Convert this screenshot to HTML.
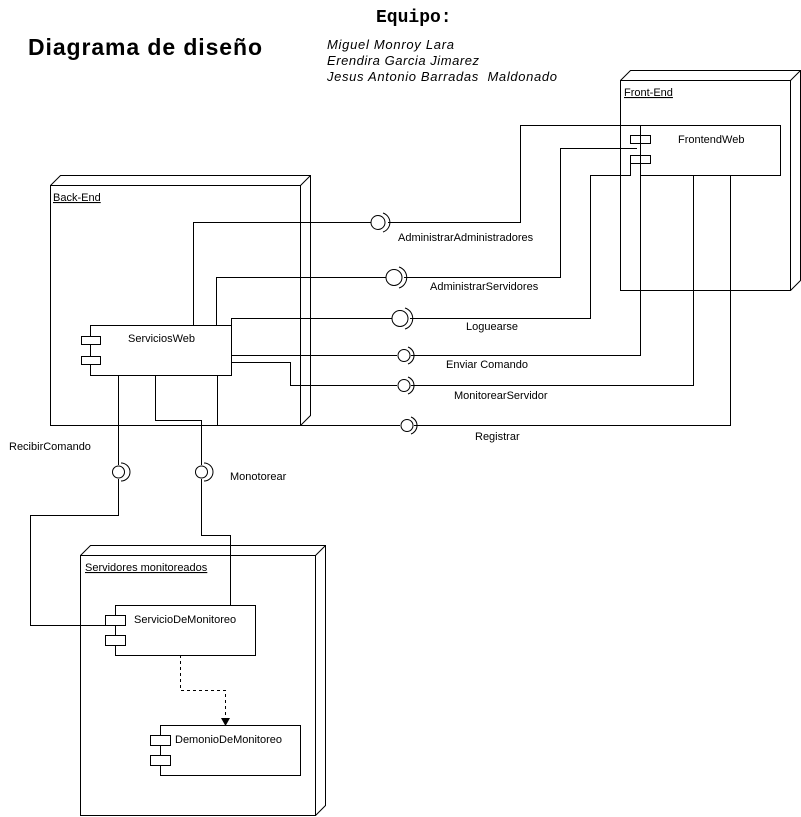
<!DOCTYPE html>
<html><head><style>body{margin:0;background:#fff}svg{display:block}text{font-family:"Liberation Sans",sans-serif;font-size:11px;fill:#000}</style></head>
<body>
<svg width="801" height="817" viewBox="0 0 801 817" xmlns="http://www.w3.org/2000/svg">
<rect width="801" height="817" fill="#fff"/>
<text x="376" y="22" style="font-family:'Liberation Mono',monospace;font-weight:bold;font-size:18px">Equipo:</text>
<text x="28" y="55" style="font-size:23px;font-weight:bold" textLength="234">Diagrama de diseño</text>
<text x="327" y="49" style="font-style:italic;font-size:13px" textLength="127">Miguel Monroy Lara</text>
<text x="327" y="65" style="font-style:italic;font-size:13px" textLength="152">Erendira Garcia Jimarez</text>
<text x="327" y="81" style="font-style:italic;font-size:13px;white-space:pre" xml:space="preserve" textLength="230">Jesus Antonio Barradas  Maldonado</text>
<g fill="none" stroke="#000" stroke-width="1">
<path d="M50.5 185.5 H300.5 V425.5 H50.5 Z M50.5 185.5 L60.5 175.5 H310.5 V415.5 L300.5 425.5 M300.5 185.5 L310.5 175.5"/>
<path d="M620.5 80.5 H790.5 V290.5 H620.5 Z M620.5 80.5 L630.5 70.5 H800.5 V280.5 L790.5 290.5 M790.5 80.5 L800.5 70.5"/>
<path d="M80.5 555.5 H315.5 V815.5 H80.5 Z M80.5 555.5 L90.5 545.5 H325.5 V805.5 L315.5 815.5 M315.5 555.5 L325.5 545.5"/>
<rect x="90.5" y="325.5" width="141" height="50" fill="#fff"/>
<rect x="81.5" y="336.5" width="19" height="8" fill="#fff"/><rect x="81.5" y="356.5" width="19" height="8" fill="#fff"/>
<rect x="640.5" y="125.5" width="140" height="50" fill="#fff"/>
<rect x="630.5" y="135.5" width="20" height="8" fill="#fff"/><rect x="630.5" y="155.5" width="20" height="8" fill="#fff"/>
<rect x="115.5" y="605.5" width="140" height="50" fill="#fff"/>
<rect x="105.5" y="615.5" width="20" height="10" fill="#fff"/><rect x="105.5" y="635.5" width="20" height="10" fill="#fff"/>
<rect x="160.5" y="725.5" width="140" height="50" fill="#fff"/>
<rect x="150.5" y="735.5" width="20" height="10" fill="#fff"/><rect x="150.5" y="755.5" width="20" height="10" fill="#fff"/>
<path d="M193.5 325 V222.5 H371 M388 222.5 H520.5 V125.5 H640"/>
<path d="M216.5 325 V277.5 H386 M404 277.5 H560.5 V148.5 H637"/>
<path d="M231.5 325 V318.5 H392 M410 318.5 H590.5 V175.5 H630.5 V163"/>
<path d="M231 355.5 H397 M411 355.5 H640.5 V125"/>
<path d="M231 362.5 H290.5 V385.5 H397 M411 385.5 H693.5 V175"/>
<path d="M300 425.5 H400 M414 425.5 H730.5 V175"/>
<path d="M217.5 375 V425"/>
<path d="M118.5 375 V465 M118.5 479 V515.5 H30.5 V625.5 H110"/>
<path d="M155.5 375 V420.5 H201.5 V465 M201.5 479 V535.5 H230.5 V605"/>
<circle cx="378" cy="222.5" r="7"/><path d="M383 213 A10 10 0 0 1 383 232"/>
<circle cx="394" cy="277.5" r="8"/><path d="M399 267 A11 11 0 0 1 399 288"/>
<circle cx="400" cy="318.5" r="8"/><path d="M405 308 A11 11 0 0 1 405 329"/>
<circle cx="404" cy="355.5" r="6"/><path d="M408 347 A9 9 0 0 1 408 364"/>
<circle cx="404" cy="385.5" r="6"/><path d="M408 377 A9 9 0 0 1 408 394"/>
<circle cx="407" cy="425.5" r="6"/><path d="M411 417 A9 9 0 0 1 411 434"/>
<circle cx="118.5" cy="472" r="6"/><path d="M121 463 A9 9 0 0 1 121 481"/>
<circle cx="201.5" cy="472" r="6"/><path d="M204 463 A9 9 0 0 1 204 481"/>
<path d="M180.5 655 V690.5 H225.5 V720" stroke-dasharray="3,3"/>
</g>
<path d="M221 718 L230 718 L225.5 726 Z" fill="#000"/>
<text x="53" y="201" text-decoration="underline">Back-End</text>
<text x="624" y="96" text-decoration="underline">Front-End</text>
<text x="85" y="571" text-decoration="underline">Servidores monitoreados</text>
<text x="128" y="342">ServiciosWeb</text>
<text x="678" y="143">FrontendWeb</text>
<text x="134" y="623">ServicioDeMonitoreo</text>
<text x="175" y="743">DemonioDeMonitoreo</text>
<text x="398" y="241">AdministrarAdministradores</text>
<text x="430" y="290">AdministrarServidores</text>
<text x="466" y="330">Loguearse</text>
<text x="446" y="368">Enviar Comando</text>
<text x="454" y="399">MonitorearServidor</text>
<text x="475" y="440">Registrar</text>
<text x="9" y="450">RecibirComando</text>
<text x="230" y="480">Monotorear</text>
</svg>
</body></html>
